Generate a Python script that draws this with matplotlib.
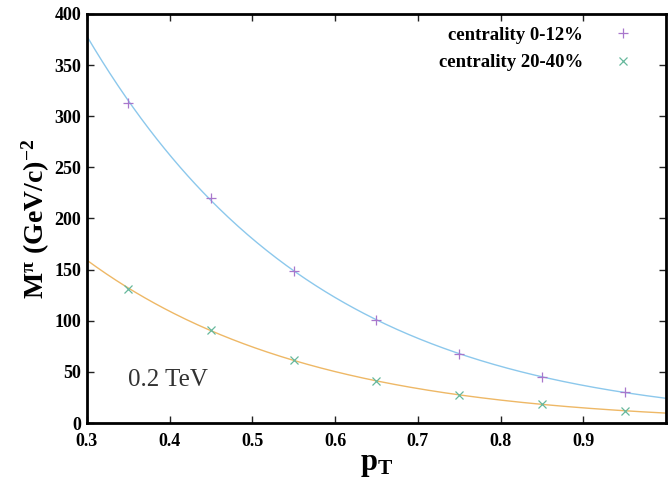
import numpy as np
import matplotlib
matplotlib.use('Agg')
import matplotlib.pyplot as plt

# pT bins (GeV/c) and values
pt = [0.35, 0.45, 0.55, 0.65, 0.75, 0.85, 0.95]
m_central = [313, 220, 149, 101, 67.5, 45, 30]      # centrality 0-12%
m_mid = [131, 91, 62, 41, 27, 18.5, 12]             # centrality 20-40%

xticks = [0.3, 0.4, 0.5, 0.6, 0.7, 0.8, 0.9]
yticks = [0, 50, 100, 150, 200, 250, 300, 350, 400]

serif = ['Liberation Serif', 'DejaVu Serif']
plt.rcParams['font.family'] = serif
plt.rcParams['mathtext.fontset'] = 'custom'
plt.rcParams['mathtext.rm'] = 'Liberation Serif:bold'
plt.rcParams['mathtext.it'] = 'Liberation Serif:bold'
plt.rcParams['mathtext.bf'] = 'Liberation Serif:bold'

fig = plt.figure(figsize=(6.68, 4.78), dpi=100)
ax = fig.add_axes([0.130, 0.115, 0.867, 0.856])

# smooth fits through the points, like the original fitted curves
xs = np.linspace(0.3, 1.0, 300)
for vals, lc in [(m_central, '#8cc8ec'), (m_mid, '#eeb866')]:
    c = np.polyfit(pt, np.log(vals), 2)
    ax.plot(xs, np.exp(np.polyval(c, xs)), color=lc, lw=1.0, zorder=2)

ax.plot(pt, m_central, ls='none', marker='+', ms=7, mew=0.9,
        color='#a877cc', label='centrality 0-12%', zorder=3)
ax.plot(pt, m_mid, ls='none', marker='x', ms=5.5, mew=0.9,
        color='#66b89c', label='centrality 20-40%', zorder=3)

ax.set_xlim(0.3, 1.0)
ax.set_ylim(0, 400)
ax.set_xticks(xticks)
ax.set_yticks(yticks)
ax.set_xticklabels([str(t) for t in xticks], fontweight='bold', fontsize=13)
ax.set_yticklabels([str(t) for t in yticks], fontweight='bold', fontsize=13)
ax.tick_params(direction='in', length=5, width=1.0, top=True, right=True,
               color='#222222')
ax.tick_params(axis='x', pad=7)
ax.tick_params(axis='y', pad=4)
for s in ax.spines.values():
    s.set_linewidth(2.0)

ax.set_xlabel(r'$\mathbf{p_T}$', fontsize=22, labelpad=0)
ax.set_ylabel(r'$\mathbf{M^{\pi}\ (GeV/c)^{-2}}$', fontsize=20, labelpad=2)

ax.text(0.35, 42, '0.2 TeV', fontsize=18, color='#333333',
        ha='left', va='center')

leg = ax.legend(loc='upper right', frameon=False, markerfirst=False,
                prop={'family': serif, 'weight': 'bold', 'size': 13.5},
                handlelength=1.5, handletextpad=1.4, labelspacing=0.55,
                bbox_to_anchor=(0.98, 1.01))

fig.savefig('out.png', dpi=100)
